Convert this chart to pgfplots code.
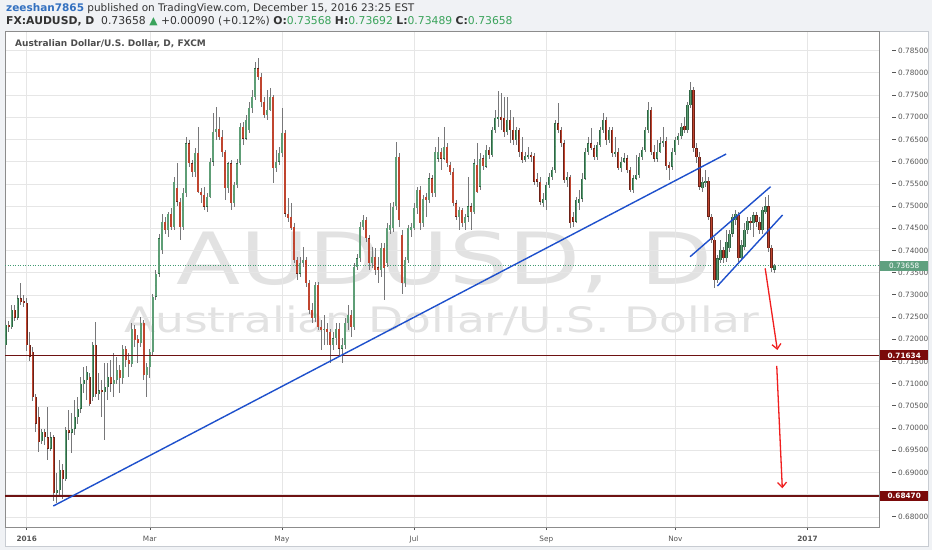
\documentclass[border=0pt]{standalone}
\usepackage{fontspec}
\setmainfont{DejaVu Sans}
\usepackage{pgfplots}
\usepackage{pgfplotstable}
\pgfplotsset{compat=1.18}
\usetikzlibrary{arrows.meta}
\definecolor{bgc}{HTML}{F0F2F5}
\definecolor{panelb}{HTML}{C8CCD2}
\definecolor{gridc}{HTML}{E6E6E6}
\definecolor{axisc}{HTML}{8C8C8C}
\definecolor{tickc}{HTML}{555555}
\definecolor{upfill}{HTML}{5E9E76}
\definecolor{upedge}{HTML}{2F6644}
\definecolor{dnfill}{HTML}{C0452F}
\definecolor{dnedge}{HTML}{6A2218}
\definecolor{wickc}{HTML}{777779}
\definecolor{trendc}{HTML}{1E50CC}
\definecolor{arrowc}{HTML}{F01E1E}
\definecolor{levelc}{HTML}{6E1212}
\definecolor{levellab}{HTML}{7A0A0A}
\definecolor{curc}{HTML}{5FA07F}
\definecolor{curline}{HTML}{3F9A72}
\definecolor{wmc}{HTML}{E2E2E2}
\definecolor{userc}{HTML}{3471C0}
\definecolor{hdrc}{HTML}{333333}
\definecolor{valc}{HTML}{3AA35B}
\definecolor{titlec}{HTML}{4D4D4D}

\pgfplotsset{
  candlebar/.style={only marks, mark=*, mark size=0pt, mark options={draw=none, fill=none}, forget plot,
    error bars/y dir=both, error bars/y explicit, error bars/error mark=none},
}

\pgfplotstableread{
i o h l c
-7 0.7187 0.7243 0.7179 0.7232
-6 0.7232 0.7242 0.7217 0.7227
-5 0.7227 0.7277 0.7222 0.7266
-4 0.7266 0.7277 0.7242 0.7249
-3 0.7249 0.7300 0.7243 0.7292
-2 0.7292 0.7326 0.7277 0.7284
-1 0.7287 0.7300 0.7272 0.7282
0 0.7282 0.7292 0.7174 0.7187
1 0.7187 0.7217 0.7152 0.7161
2 0.7172 0.7183 0.7061 0.7070
3 0.7070 0.7076 0.6992 0.7010
4 0.7025 0.7048 0.6947 0.6969
5 0.6971 0.6999 0.6965 0.6992
6 0.6992 0.6997 0.6962 0.6979
7 0.6979 0.7048 0.6928 0.6954
8 0.6954 0.6992 0.6949 0.6979
9 0.6979 0.6984 0.6836 0.6853
10 0.6853 0.6898 0.6832 0.6860
11 0.6860 0.6928 0.6845 0.6905
12 0.6905 0.6920 0.6841 0.6886
13 0.6886 0.7003 0.6881 0.6995
14 0.6995 0.7040 0.6973 0.6990
15 0.6990 0.7033 0.6943 0.6999
16 0.6999 0.7063 0.6984 0.7025
17 0.7025 0.7070 0.7010 0.7044
18 0.7044 0.7116 0.7033 0.7099
19 0.7099 0.7138 0.7078 0.7108
20 0.7108 0.7140 0.7063 0.7127
21 0.7116 0.7123 0.7049 0.7055
22 0.7070 0.7194 0.7061 0.7187
23 0.7187 0.7239 0.7070 0.7076
24 0.7076 0.7123 0.7063 0.7085
25 0.7085 0.7108 0.7025 0.7081
26 0.7081 0.7146 0.6973 0.7093
27 0.7093 0.7146 0.7063 0.7116
28 0.7116 0.7153 0.7082 0.7100
29 0.7100 0.7168 0.7070 0.7108
30 0.7108 0.7161 0.7099 0.7131
31 0.7131 0.7142 0.7078 0.7112
32 0.7112 0.7187 0.7100 0.7179
33 0.7179 0.7185 0.7138 0.7153
34 0.7153 0.7168 0.7116 0.7144
35 0.7144 0.7236 0.7138 0.7224
36 0.7224 0.7232 0.7183 0.7198
37 0.7200 0.7209 0.7146 0.7191
38 0.7191 0.7251 0.7183 0.7236
39 0.7236 0.7243 0.7108 0.7119
40 0.7119 0.7146 0.7070 0.7138
41 0.7138 0.7179 0.7112 0.7172
42 0.7172 0.7303 0.7164 0.7296
43 0.7296 0.7356 0.7288 0.7348
44 0.7348 0.7438 0.7341 0.7427
45 0.7401 0.7483 0.7393 0.7465
46 0.7465 0.7476 0.7438 0.7446
47 0.7446 0.7487 0.7431 0.7483
48 0.7483 0.7495 0.7446 0.7453
49 0.7453 0.7566 0.7446 0.7555
50 0.7540 0.7596 0.7499 0.7510
51 0.7510 0.7517 0.7423 0.7453
52 0.7453 0.7540 0.7446 0.7529
53 0.7529 0.7656 0.7521 0.7641
54 0.7641 0.7649 0.7589 0.7596
55 0.7596 0.7604 0.7566 0.7577
56 0.7577 0.7630 0.7566 0.7619
57 0.7619 0.7679 0.7529 0.7532
58 0.7532 0.7540 0.7506 0.7525
59 0.7525 0.7544 0.7491 0.7499
60 0.7499 0.7529 0.7487 0.7521
61 0.7521 0.7607 0.7517 0.7600
62 0.7600 0.7709 0.7589 0.7667
63 0.7667 0.7724 0.7649 0.7673
64 0.7673 0.7701 0.7649 0.7656
65 0.7656 0.7671 0.7611 0.7622
66 0.7622 0.7626 0.7514 0.7540
67 0.7540 0.7600 0.7529 0.7596
68 0.7596 0.7604 0.7491 0.7506
69 0.7506 0.7555 0.7499 0.7547
70 0.7547 0.7607 0.7540 0.7596
71 0.7596 0.7686 0.7592 0.7679
72 0.7679 0.7690 0.7637 0.7652
73 0.7652 0.7705 0.7649 0.7694
74 0.7671 0.7735 0.7664 0.7720
75 0.7720 0.7761 0.7709 0.7746
76 0.7746 0.7825 0.7739 0.7810
77 0.7810 0.7833 0.7784 0.7791
78 0.7791 0.7799 0.7724 0.7735
79 0.7735 0.7746 0.7698 0.7705
80 0.7705 0.7761 0.7694 0.7716
81 0.7716 0.7765 0.7713 0.7746
82 0.7746 0.7750 0.7551 0.7585
83 0.7585 0.7626 0.7577 0.7600
84 0.7600 0.7634 0.7592 0.7619
85 0.7619 0.7720 0.7611 0.7664
86 0.7664 0.7671 0.7476 0.7483
87 0.7483 0.7517 0.7465 0.7472
88 0.7476 0.7506 0.7446 0.7450
89 0.7453 0.7461 0.7371 0.7378
90 0.7378 0.7386 0.7333 0.7348
91 0.7348 0.7386 0.7341 0.7371
92 0.7371 0.7408 0.7363 0.7378
93 0.7378 0.7386 0.7318 0.7326
94 0.7326 0.7333 0.7258 0.7266
95 0.7266 0.7281 0.7236 0.7247
96 0.7247 0.7330 0.7239 0.7322
97 0.7322 0.7330 0.7221 0.7228
98 0.7228 0.7243 0.7176 0.7221
99 0.7221 0.7254 0.7187 0.7224
100 0.7224 0.7236 0.7187 0.7217
101 0.7217 0.7224 0.7146 0.7187
102 0.7187 0.7217 0.7176 0.7202
103 0.7202 0.7236 0.7187 0.7224
104 0.7224 0.7236 0.7164 0.7179
105 0.7179 0.7202 0.7146 0.7187
106 0.7187 0.7247 0.7179 0.7236
107 0.7236 0.7277 0.7221 0.7254
108 0.7254 0.7266 0.7206 0.7228
109 0.7228 0.7371 0.7221 0.7363
110 0.7363 0.7393 0.7356 0.7382
111 0.7382 0.7465 0.7375 0.7453
112 0.7453 0.7480 0.7446 0.7468
113 0.7468 0.7476 0.7420 0.7427
114 0.7427 0.7435 0.7356 0.7371
115 0.7371 0.7408 0.7360 0.7386
116 0.7386 0.7405 0.7345 0.7356
117 0.7362 0.7386 0.7326 0.7356
118 0.7356 0.7416 0.7341 0.7405
119 0.7405 0.7416 0.7288 0.7360
120 0.7371 0.7461 0.7363 0.7450
121 0.7446 0.7506 0.7438 0.7457
122 0.7450 0.7510 0.7442 0.7499
123 0.7499 0.7645 0.7491 0.7611
124 0.7611 0.7619 0.7453 0.7468
125 0.7435 0.7446 0.7303 0.7326
126 0.7326 0.7386 0.7318 0.7378
127 0.7378 0.7457 0.7371 0.7450
128 0.7446 0.7461 0.7431 0.7453
129 0.7450 0.7506 0.7446 0.7495
130 0.7495 0.7544 0.7483 0.7536
131 0.7536 0.7544 0.7446 0.7461
132 0.7461 0.7525 0.7453 0.7517
133 0.7521 0.7529 0.7476 0.7514
134 0.7514 0.7574 0.7506 0.7562
135 0.7562 0.7570 0.7521 0.7529
136 0.7529 0.7634 0.7521 0.7622
137 0.7607 0.7656 0.7600 0.7622
138 0.7622 0.7630 0.7581 0.7607
139 0.7607 0.7679 0.7604 0.7634
140 0.7634 0.7641 0.7589 0.7596
141 0.7592 0.7600 0.7570 0.7577
142 0.7577 0.7585 0.7499 0.7506
143 0.7506 0.7514 0.7468 0.7476
144 0.7476 0.7499 0.7446 0.7491
145 0.7491 0.7495 0.7453 0.7461
146 0.7461 0.7483 0.7446 0.7476
147 0.7476 0.7566 0.7465 0.7499
148 0.7499 0.7506 0.7446 0.7487
149 0.7487 0.7607 0.7483 0.7596
150 0.7592 0.7641 0.7529 0.7532
151 0.7544 0.7619 0.7536 0.7607
152 0.7607 0.7615 0.7581 0.7589
153 0.7589 0.7637 0.7585 0.7626
154 0.7626 0.7634 0.7607 0.7615
155 0.7615 0.7679 0.7611 0.7671
156 0.7671 0.7716 0.7664 0.7698
157 0.7695 0.7758 0.7679 0.7700
158 0.7700 0.7754 0.7671 0.7694
159 0.7698 0.7746 0.7656 0.7667
160 0.7667 0.7746 0.7660 0.7694
161 0.7694 0.7716 0.7641 0.7671
162 0.7671 0.7701 0.7637 0.7649
163 0.7649 0.7679 0.7637 0.7671
164 0.7671 0.7675 0.7611 0.7622
165 0.7622 0.7656 0.7596 0.7604
166 0.7604 0.7622 0.7600 0.7613
167 0.7613 0.7634 0.7607 0.7614
168 0.7614 0.7622 0.7600 0.7613
169 0.7613 0.7619 0.7547 0.7555
170 0.7562 0.7574 0.7544 0.7555
171 0.7555 0.7566 0.7502 0.7510
172 0.7506 0.7529 0.7499 0.7517
173 0.7514 0.7555 0.7491 0.7547
174 0.7547 0.7574 0.7540 0.7566
175 0.7566 0.7589 0.7559 0.7581
176 0.7581 0.7694 0.7574 0.7686
177 0.7686 0.7731 0.7664 0.7671
178 0.7671 0.7679 0.7634 0.7641
179 0.7641 0.7649 0.7551 0.7559
180 0.7559 0.7577 0.7544 0.7566
181 0.7566 0.7570 0.7450 0.7461
182 0.7476 0.7487 0.7453 0.7465
183 0.7465 0.7521 0.7461 0.7514
184 0.7506 0.7536 0.7491 0.7517
185 0.7517 0.7574 0.7510 0.7562
186 0.7562 0.7630 0.7559 0.7622
187 0.7622 0.7656 0.7615 0.7641
188 0.7641 0.7675 0.7626 0.7630
189 0.7630 0.7637 0.7604 0.7611
190 0.7611 0.7645 0.7604 0.7637
191 0.7637 0.7679 0.7634 0.7671
192 0.7671 0.7709 0.7664 0.7694
193 0.7694 0.7701 0.7637 0.7649
194 0.7649 0.7679 0.7641 0.7671
195 0.7671 0.7679 0.7611 0.7619
196 0.7619 0.7656 0.7611 0.7622
197 0.7622 0.7630 0.7581 0.7585
198 0.7585 0.7611 0.7577 0.7600
199 0.7600 0.7619 0.7596 0.7607
200 0.7607 0.7615 0.7574 0.7581
201 0.7581 0.7589 0.7532 0.7536
202 0.7536 0.7570 0.7529 0.7562
203 0.7562 0.7615 0.7559 0.7570
204 0.7570 0.7619 0.7562 0.7611
205 0.7611 0.7634 0.7604 0.7626
206 0.7626 0.7679 0.7622 0.7671
207 0.7671 0.7735 0.7664 0.7716
208 0.7716 0.7724 0.7615 0.7622
209 0.7622 0.7637 0.7600 0.7607
210 0.7607 0.7649 0.7600 0.7622
211 0.7622 0.7656 0.7619 0.7641
212 0.7641 0.7679 0.7634 0.7647
213 0.7647 0.7656 0.7581 0.7589
214 0.7592 0.7600 0.7559 0.7585
215 0.7589 0.7630 0.7581 0.7622
216 0.7622 0.7656 0.7615 0.7649
217 0.7649 0.7664 0.7637 0.7658
218 0.7658 0.7686 0.7652 0.7679
219 0.7680 0.7701 0.7664 0.7671
220 0.7671 0.7735 0.7664 0.7728
221 0.7728 0.7780 0.7720 0.7761
222 0.7761 0.7769 0.7622 0.7630
223 0.7630 0.7641 0.7596 0.7611
224 0.7611 0.7622 0.7536 0.7544
225 0.7540 0.7566 0.7532 0.7555
226 0.7551 0.7581 0.7544 0.7557
227 0.7557 0.7566 0.7468 0.7476
228 0.7476 0.7483 0.7416 0.7423
229 0.7423 0.7431 0.7315 0.7333
230 0.7333 0.7390 0.7326 0.7382
231 0.7378 0.7423 0.7371 0.7401
232 0.7401 0.7408 0.7371 0.7382
233 0.7382 0.7446 0.7375 0.7420
234 0.7405 0.7446 0.7397 0.7438
235 0.7438 0.7483 0.7431 0.7476
236 0.7468 0.7491 0.7457 0.7483
237 0.7480 0.7487 0.7375 0.7382
238 0.7382 0.7423 0.7378 0.7412
239 0.7408 0.7461 0.7401 0.7447
240 0.7446 0.7476 0.7438 0.7467
241 0.7467 0.7476 0.7446 0.7461
242 0.7461 0.7487 0.7431 0.7479
243 0.7479 0.7487 0.7453 0.7465
244 0.7465 0.7476 0.7438 0.7446
245 0.7446 0.7499 0.7438 0.7491
246 0.7487 0.7521 0.7483 0.7499
247 0.7499 0.7525 0.7397 0.7405
248 0.7405 0.7412 0.7352 0.7360
249 0.73568 0.73692 0.73489 0.73658
}\candles

\begin{document}
\begin{tikzpicture}[x=1pt,y=1pt]
\useasboundingbox (0,0) rectangle (932,550);
\fill[bgc] (0,0) rectangle (932,550);
\filldraw[fill=white, draw=panelb, line width=0.6pt] (5,4) rectangle (928,519);
% watermarks
\node[anchor=base west, inner sep=0pt, xscale=1.3, font=\fontsize{72}{72}\selectfont, text=wmc] at (176,266) {AUDUSD, D};
\node[anchor=base west, inner sep=0pt, xscale=1.3, font=\fontsize{35}{35}\selectfont, text=wmc] at (124,218) {Australian Dollar/U.S. Dollar};
% header
\node[anchor=base west, inner sep=0pt, font=\fontsize{10.5}{12}\selectfont] at (6,538) {\textcolor{userc}{\textbf{zeeshan7865}} \textcolor{hdrc}{published on TradingView.com, December 15, 2016 23:25 EST}};
\node[anchor=base west, inner sep=0pt, font=\fontsize{10.8}{12}\selectfont, text=hdrc] at (6,525.5) {\textbf{FX:AUDUSD, D}\ \ 0.73658 \textcolor{valc}{▲} +0.00090 (+0.12\%) \textbf{O:}\textcolor{valc}{0.73568} \textbf{H:}\textcolor{valc}{0.73692} \textbf{L:}\textcolor{valc}{0.73489} \textbf{C:}\textcolor{valc}{0.73658}};

\begin{axis}[at={(5pt,23pt)}, anchor=south west, scale only axis,
  width=874pt, height=496pt,
  xmin=-7.23, xmax=283.8, ymin=0.67772, ymax=0.78941,
  axis line style={draw=axisc, line width=0.6pt},
  xtick={0,41,85,129,173,216,260},
  xticklabels={\textbf{2016},Mar,May,Jul,Sep,Nov,\textbf{2017}},
  xtick pos=bottom, ytick pos=right, yticklabel pos=right,
  tick align=outside, major tick length=3pt,
  xtick style={draw=tickc, line width=0.5pt}, ytick style={draw=none},
  ytick={0.68,0.685,0.69,0.695,0.70,0.705,0.71,0.715,0.72,0.725,0.73,0.735,0.74,0.745,0.75,0.755,0.76,0.765,0.77,0.775,0.78,0.785},
  /pgf/number format/assume math mode=true,
  yticklabel={\textcolor{tickc}{\rule[2.6pt]{3.5pt}{0.5pt}}\hspace{2.5pt}\pgfmathprintnumber[fixed,fixed zerofill,precision=5]{\tick}},
  xmajorgrids, ymajorgrids, grid style={draw=gridc, line width=0.6pt},
  ticklabel style={font=\fontsize{7.3}{8}\selectfont, text=tickc},
  xticklabel style={anchor=north, inner sep=0pt, yshift=-6pt},
  yticklabel style={anchor=west, inner sep=0pt, xshift=10pt},
]
% current price dotted line
\addplot[draw=curline, dash pattern=on 1pt off 1.5pt, line width=0.7pt, forget plot] coordinates {(-7.23,0.73658) (283.8,0.73658)};
% wicks
\addplot[candlebar, error bars/error bar style={line width=0.7pt, draw=wickc}]
  table[x=i, y expr={(\thisrow{h}+\thisrow{l})/2}, y error expr={(\thisrow{h}-\thisrow{l})/2}] {\candles};
% up bodies
\addplot[candlebar, restrict expr to domain={\thisrow{c}-\thisrow{o}}{-0.00001:1},
  error bars/error bar style={line width=2.2pt, draw=upedge}]
  table[x=i, y expr={(\thisrow{o}+\thisrow{c})/2}, y error expr={max(abs(\thisrow{c}-\thisrow{o})/2,0.00009)}] {\candles};
\addplot[candlebar, restrict expr to domain={\thisrow{c}-\thisrow{o}}{-0.00001:1},
  error bars/error bar style={line width=1.4pt, draw=upfill}]
  table[x=i, y expr={(\thisrow{o}+\thisrow{c})/2}, y error expr={max(abs(\thisrow{c}-\thisrow{o})/2-0.00004,0.00006)}] {\candles};
% down bodies
\addplot[candlebar, restrict expr to domain={\thisrow{c}-\thisrow{o}}{-1:-0.00001},
  error bars/error bar style={line width=2.2pt, draw=dnedge}]
  table[x=i, y expr={(\thisrow{o}+\thisrow{c})/2}, y error expr={max(abs(\thisrow{c}-\thisrow{o})/2,0.00009)}] {\candles};
\addplot[candlebar, restrict expr to domain={\thisrow{c}-\thisrow{o}}{-1:-0.00001},
  error bars/error bar style={line width=1.4pt, draw=dnfill}]
  table[x=i, y expr={(\thisrow{o}+\thisrow{c})/2}, y error expr={max(abs(\thisrow{c}-\thisrow{o})/2-0.00004,0.00006)}] {\candles};
% support levels
\addplot[draw=levelc, line width=1.6pt, forget plot] coordinates {(-7.23,0.71634) (283.8,0.71634)};
\addplot[draw=levelc, line width=1.6pt, forget plot] coordinates {(-7.23,0.68470) (283.8,0.68470)};
% trend lines
\addplot[draw=trendc, line width=1.4pt, forget plot] coordinates {(8.86,0.68245) (232.9,0.76171)};
\addplot[draw=trendc, line width=1.4pt, forget plot] coordinates {(220.9,0.73859) (247.7,0.75435)};
\addplot[draw=trendc, line width=1.4pt, forget plot] coordinates {(230.0,0.73199) (251.7,0.74798)};
% arrows
\addplot[draw=arrowc, line width=1.3pt, -{Straight Barb[length=5pt,width=9pt]}, forget plot] coordinates {(245.9,0.73597) (249.95,0.71758)};
\addplot[draw=arrowc, line width=1.3pt, -{Straight Barb[length=5pt,width=9pt]}, forget plot] coordinates {(249.75,0.71398) (251.6,0.68644)};
\coordinate (L1) at (axis cs:283.8,0.71634);
\coordinate (L2) at (axis cs:283.8,0.68470);
\coordinate (L3) at (axis cs:283.8,0.73658);
\end{axis}
\node[fill=levellab, text=white, font=\bfseries\fontsize{7.3}{8}\selectfont, anchor=west, minimum width=48pt, minimum height=10pt, inner sep=0pt] at ([xshift=1pt]L1) {0.71634};
\node[fill=levellab, text=white, font=\bfseries\fontsize{7.3}{8}\selectfont, anchor=west, minimum width=48pt, minimum height=10pt, inner sep=0pt] at ([xshift=1pt]L2) {0.68470};
\node[fill=curc, text=white, font=\fontsize{7.3}{8}\selectfont, anchor=west, minimum width=48pt, minimum height=10pt, inner sep=0pt] at ([xshift=1pt]L3) {0.73658};
\node[anchor=base west, inner sep=0pt, font=\bfseries\fontsize{9}{10}\selectfont, text=titlec] at (15,503) {Australian Dollar/U.S. Dollar, D, FXCM};
\end{tikzpicture}
\end{document}
